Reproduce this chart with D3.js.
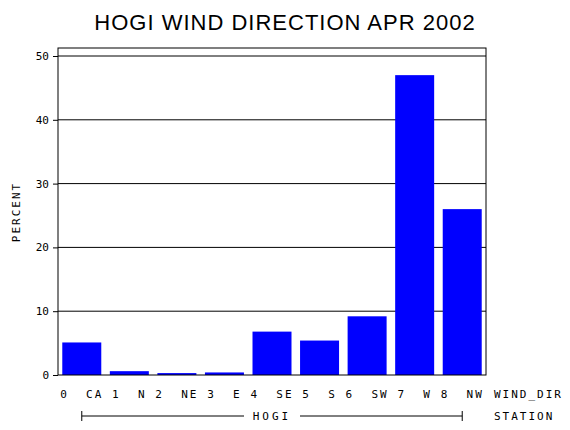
<!DOCTYPE html>
<html>
  <head>
    <meta charset='utf-8'>
    <script src="https://d3js.org/d3.v7.min.js"></script>
    <title>HOGI Wind Direction</title>
    <style>
      body { margin: 0; background: #fff; }
      text { font-family: "DejaVu Sans Mono", monospace; font-size: 11px; fill: #000; white-space: pre; }
    </style>
  </head>
  <body>
    <div id="chart"></div>
    <script type="text/javascript">
      var categories = ["0 CA", "1 N", "2 NE", "3 E", "4 SE", "5 S", "6 SW", "7 W", "8 NW"];
      var percents = [5.1, 0.6, 0.3, 0.4, 6.8, 5.4, 9.2, 47.0, 26.0];
      var yTicks = [0, 10, 20, 30, 40, 50];

      var svg = d3.select("#chart").append("svg").attr("width", 570).attr("height", 430);
      var pLeft = 58, pRight = 486, pTop = 48, pBottom = 375;

      var x = d3.scaleBand().domain(categories).range([pLeft, pRight]).paddingInner(0.18).paddingOuter(0.09);
      var y = d3.scaleLinear().domain([0, 50]).range([pBottom, 56]);

      // title
      svg.append("text").attr("x", 285).attr("y", 30).attr("text-anchor", "middle")
        .style("font-family", "'Liberation Sans', Arial, sans-serif").style("font-size", "22px")
        .attr("letter-spacing", "1px")
        .text("HOGI WIND DIRECTION APR 2002");

      // gridlines
      svg.selectAll(".grid").data(yTicks.slice(1)).enter().append("line")
        .attr("x1", pLeft).attr("x2", pRight).attr("y1", function(d) { return y(d); }).attr("y2", function(d) { return y(d); })
        .attr("stroke", "#000").attr("stroke-width", 1);

      // bars
      svg.selectAll(".bar").data(percents).enter().append("rect")
        .attr("x", function(d, i) { return x(categories[i]); })
        .attr("width", x.bandwidth())
        .attr("y", function(d) { return y(d); })
        .attr("height", function(d) { return pBottom - y(d); })
        .attr("fill", "#0000ff");

      // frame
      svg.append("rect").attr("x", pLeft).attr("y", pTop).attr("width", pRight - pLeft).attr("height", pBottom - pTop)
        .attr("fill", "none").attr("stroke", "#000");

      // y axis
      var yAxis = svg.append("g").attr("transform", "translate(" + pLeft + ",0)")
        .call(d3.axisLeft(y).tickValues(yTicks).tickSize(5).tickPadding(4));
      yAxis.select(".domain").remove();
      yAxis.selectAll("text").style("font-family", "'DejaVu Sans Mono', monospace").style("font-size", "11px");

      svg.append("text").attr("transform", "translate(20,212) rotate(-90)").attr("text-anchor", "middle")
        .attr("letter-spacing", "2px").text("PERCENT");

      // x labels
      svg.selectAll(".xl").data(categories).enter().append("text")
        .attr("x", function(d) { return x(d) + x.bandwidth() / 2; }).attr("y", 398)
        .attr("text-anchor", "middle").attr("letter-spacing", "2px")
        .text(function(d) { return d.replace(" ", "  "); });
      svg.append("text").attr("x", 494).attr("y", 398).attr("letter-spacing", "2px").text("WIND_DIR");

      // station bracket
      var bx1 = x(categories[0]) + x.bandwidth() / 2, bx2 = x(categories[categories.length - 1]) + x.bandwidth() / 2;
      var mid = (bx1 + bx2) / 2;
      svg.append("line").attr("x1", bx1).attr("x2", mid - 28).attr("y1", 416).attr("y2", 416).attr("stroke", "#000");
      svg.append("line").attr("x1", mid + 28).attr("x2", bx2).attr("y1", 416).attr("y2", 416).attr("stroke", "#000");
      svg.append("line").attr("x1", bx1).attr("x2", bx1).attr("y1", 411).attr("y2", 421).attr("stroke", "#000");
      svg.append("line").attr("x1", bx2).attr("x2", bx2).attr("y1", 411).attr("y2", 421).attr("stroke", "#000");
      svg.append("text").attr("x", mid).attr("y", 420).attr("text-anchor", "middle").attr("letter-spacing", "3px").text("HOGI");
      svg.append("text").attr("x", 494).attr("y", 420).attr("letter-spacing", "2px").text("STATION");
    </script>
  </body>
</html>
